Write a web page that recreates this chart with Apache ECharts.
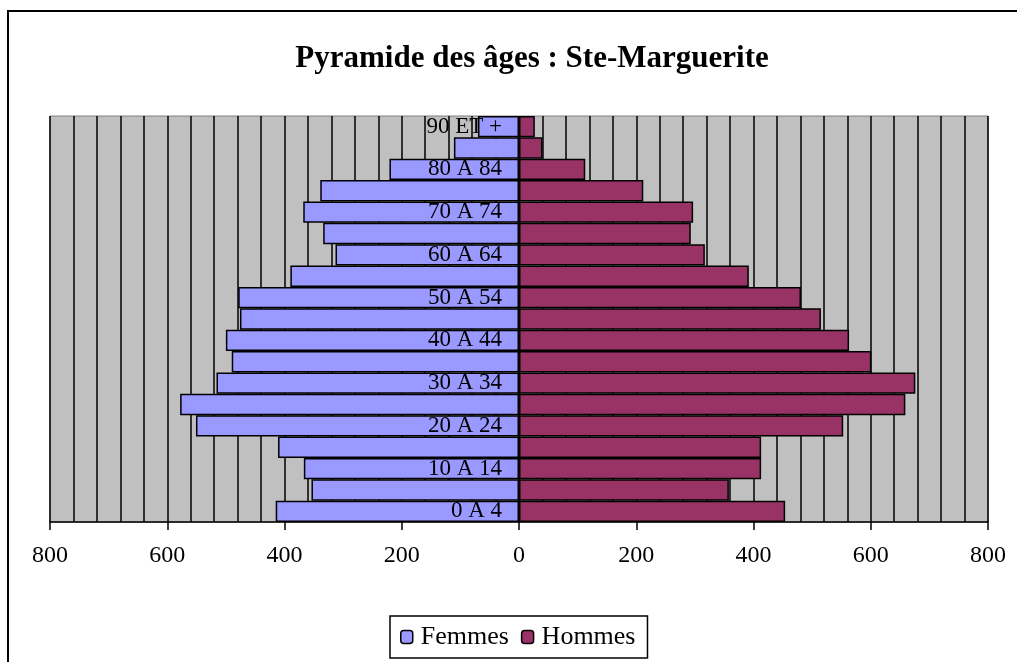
<!DOCTYPE html>
<html>
<head>
<meta charset="utf-8">
<script src="https://cdn.jsdelivr.net/npm/echarts@6/dist/echarts.min.js"></script>
<style>
html,body{margin:0;padding:0;background:#fff;}
#chart{width:1017px;height:662px;}
</style>
</head>
<body>
<div id="chart"></div>
<script>
var ageGroups = ['0 A 4','5 A 9','10 A 14','15 A 19','20 A 24','25 A 29','30 A 34','35 A 39',
	'40 A 44','45 A 49','50 A 54','55 A 59','60 A 64','65 A 69','70 A 74','75 A 79','80 A 84','85 A 89','90 ET +'];
var femmes = [415,354,367,411,551,578,516,490,500,476,479,390,313,334,368,339,221,111,70];
var hommes = [454,358,413,413,553,659,676,601,563,515,481,392,317,293,297,212,113,40,27];
var tickValues = [800,600,400,200,0,200,400,600,800];

var serif = '"Liberation Serif","Times New Roman",serif';
var pyr = {
	init:function(){
		var chart = echarts.init(document.getElementById('chart'));
		var femmesNeg = [];
		$each(femmes,function(v){ femmesNeg.push(-v); });
		var option = {
			backgroundColor:'#fff',
			animation:false,
			graphic:[{
				type:'rect',
				shape:{x:8,y:11,width:1100,height:800},
				style:{fill:'none',stroke:'#000',lineWidth:2},
				silent:true
			}],
			title:{
				text:'Pyramide des âges : Ste-Marguerite',
				left:527,
				textAlign:'center',
				top:38,
				textStyle:{fontFamily:serif,fontSize:31,fontWeight:'bold',color:'#000'}
			},
			legend:{
				data:['Femmes','Hommes'],
				left:390,
				top:616,
				padding:[8,12,8,10],
				itemGap:12,
				itemWidth:12,
				itemHeight:13,
				borderColor:'#000',
				borderWidth:1.5,
				textStyle:{fontFamily:serif,fontSize:26,color:'#000',padding:[0,0,0,3]},
				itemStyle:{borderColor:'#000',borderWidth:1.5}
			},
			grid:{
				left:50,right:29,top:116,bottom:140,
				containLabel:false,
				outerBoundsMode:'none',
				show:true,
				backgroundColor:'#C0C0C0',
				borderColor:'#808080',
				borderWidth:1
			},
			xAxis:{
				type:'value',
				min:-800,max:800,interval:200,
				axisLine:{show:true,onZero:false,lineStyle:{color:'#000',width:1.5}},
				axisTick:{show:true,length:8,lineStyle:{color:'#000',width:1.5}},
				axisLabel:{
					margin:22,
					fontFamily:serif,fontSize:24,color:'#000',
					formatter:function(v){ return Math.abs(v); }
				},
				splitLine:{show:true,lineStyle:{color:'#000',width:1.5}},
				minorTick:{show:false,splitNumber:5},
				minorSplitLine:{show:true,lineStyle:{color:'#000',width:1.5}}
			},
			yAxis:{
				type:'category',
				data:ageGroups,
				axisLine:{show:false},
				axisTick:{show:false},
				axisLabel:{show:false},
				splitLine:{show:false}
			},
			series:[{
				name:'Femmes',
				type:'bar',
				data:femmesNeg,
				barGap:'-100%',
				barCategoryGap:0,
				itemStyle:{color:'#9999FF',borderColor:'#000',borderWidth:1.5}
			},{
				name:'Hommes',
				type:'bar',
				data:hommes,
				barGap:'-100%',
				barCategoryGap:0,
				itemStyle:{color:'#993366',borderColor:'#000',borderWidth:1.5},
				label:{
					show:true,
					position:'left',
					distance:17,
					fontFamily:serif,fontSize:23,color:'#000',
					formatter:function(p){ return p.dataIndex%2===0 ? p.name : ''; }
				}
			}]
		};
		chart.setOption(option);
	}
};
function $each(arr,fn){ for(var i=0;i<arr.length;i++){ fn(arr[i],i); } }
pyr.init();
</script>
</body>
</html>
